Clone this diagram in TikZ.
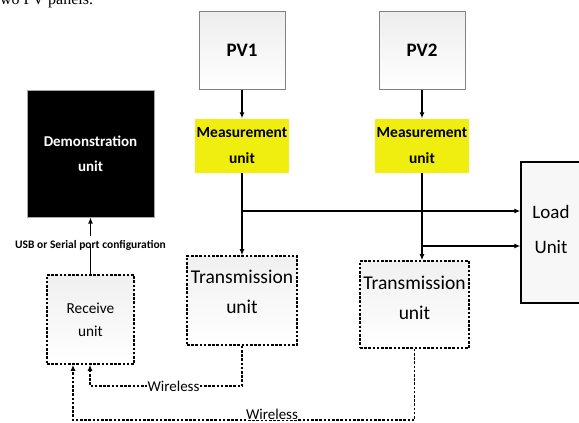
\documentclass[tikz,border=0pt]{standalone}
\usepackage{fontspec}
\setmainfont{Carlito}
\newfontfamily\timesfont{Liberation Serif}
\usetikzlibrary{arrows.meta}
\definecolor{myyellow}{RGB}{240,238,14}
\definecolor{pvborder}{RGB}{130,130,130}
\tikzset{
  conn/.style={line width=1.3pt, draw=black},
  arr/.style={conn, -{Latex[length=6pt,width=5pt]}},
  dotline/.style={line width=1.6pt, dash pattern=on 2.6pt off 1.6pt},
  dotarr/.style={dotline, -{Latex[length=6pt,width=5pt]}},
  pvbox/.style={draw=pvborder, line width=1pt, top color=gray!14, bottom color=white,
    minimum width=86pt, minimum height=78pt, inner sep=0pt,
    font=\bfseries\fontsize{19}{22}\selectfont},
  measbox/.style={fill=myyellow, minimum width=94pt, minimum height=54pt, inner sep=0pt,
    align=center, font=\bfseries\fontsize{15.5}{26}\selectfont},
  dotbox/.style={draw, dotline, top color=gray!12, bottom color=white, inner sep=0pt},
  boxtext/.style={align=center, inner sep=0pt},
}
\begin{document}
\begin{tikzpicture}[x=1pt,y=-1pt]
\useasboundingbox (0,0) rectangle (579,423);
\fill[white] (0,0) rectangle (579,423);

% cut-off caption text at the top
\node[anchor=base west, inner sep=0pt, font=\timesfont\fontsize{16}{18}\selectfont] (cap) at (-4.5,5) {two PV panels.};

% PV panels
\node[pvbox] (pv1) at (242,50) {PV1};
\node[pvbox] (pv2) at (422,50) {PV2};

% measurement units
\node[measbox] (meas1) at (242,145.5) {Measurement\\unit};
\node[measbox] (meas2) at (422,145.5) {Measurement\\unit};

% demonstration unit
\node[draw=gray!70, line width=1pt, fill=black, minimum width=127pt, minimum height=127pt,
  inner sep=0pt, align=center, text=white, font=\bfseries\fontsize{15}{25}\selectfont]
  (demo) at (90.5,153.5) {Demonstration\\unit};

% USB label
\node[inner sep=0pt, font=\bfseries\fontsize{11.5}{13}\selectfont] (usb) at (90.5,245) {USB or Serial port configuration};

% receive unit
\node[dotbox, minimum width=87pt, minimum height=89pt] (recv) at (90.5,319.5) {};
\node[boxtext, font=\fontsize{15.3}{23}\selectfont] (recvt) at (90.5,320) {Receive\\unit};

% transmission units
\node[dotbox, minimum width=110pt, minimum height=89pt] (trans1) at (242,300.5) {};
\node[boxtext, font=\fontsize{19.5}{30}\selectfont] (trans1t) at (242,292) {Transmission\\unit};
\node[dotbox, minimum width=109pt, minimum height=87pt] (trans2) at (414.5,304.5) {};
\node[boxtext, font=\fontsize{19.5}{30}\selectfont] (trans2t) at (414.5,298) {Transmission\\unit};

% load unit
\node[draw, line width=1.3pt, fill=gray!6, minimum width=60pt, minimum height=141pt, inner sep=0pt] (load) at (551,232.5) {};
\node[boxtext, font=\fontsize{19}{35}\selectfont] (loadt) at (551,229) {Load\\Unit};

% connectors
\draw[arr] (pv1) -- (meas1);
\draw[arr] (pv2) -- (meas2);
\draw[arr] (meas1.south) -- (meas1.south |- trans1.north);
\draw[arr] (meas2.south) -- (meas2.south |- trans2.north);
\coordinate (j1) at (242,211);
\coordinate (j2) at (422,246);
\draw[arr] (j1) -- (j1 -| load.west);
\draw[arr] (j2) -- (j2 -| load.west);
\fill (422,211) circle (1.6pt);

\draw[arr] (usb.north) ++(0,-4) -- (demo.south);
\draw[conn] ([yshift=4pt]usb.south) -- (recv.north);

% wireless links
\coordinate (w1) at (90,386);
\coordinate (w2) at (73,420);
\draw[dotarr] (trans1.south) |- (w1) -- (w1 |- recv.south);
\draw[dotarr] (trans2.south) |- (w2) -- (w2 |- recv.south);
\node[fill=white, inner sep=1pt, font=\fontsize{15}{18}\selectfont] (wl1) at (173.5,386) {Wireless};
\node[fill=white, inner sep=0.5pt, anchor=base, font=\fontsize{15}{18}\selectfont] (wl2) at (272,419.5) {Wireless};
\end{tikzpicture}
\end{document}
